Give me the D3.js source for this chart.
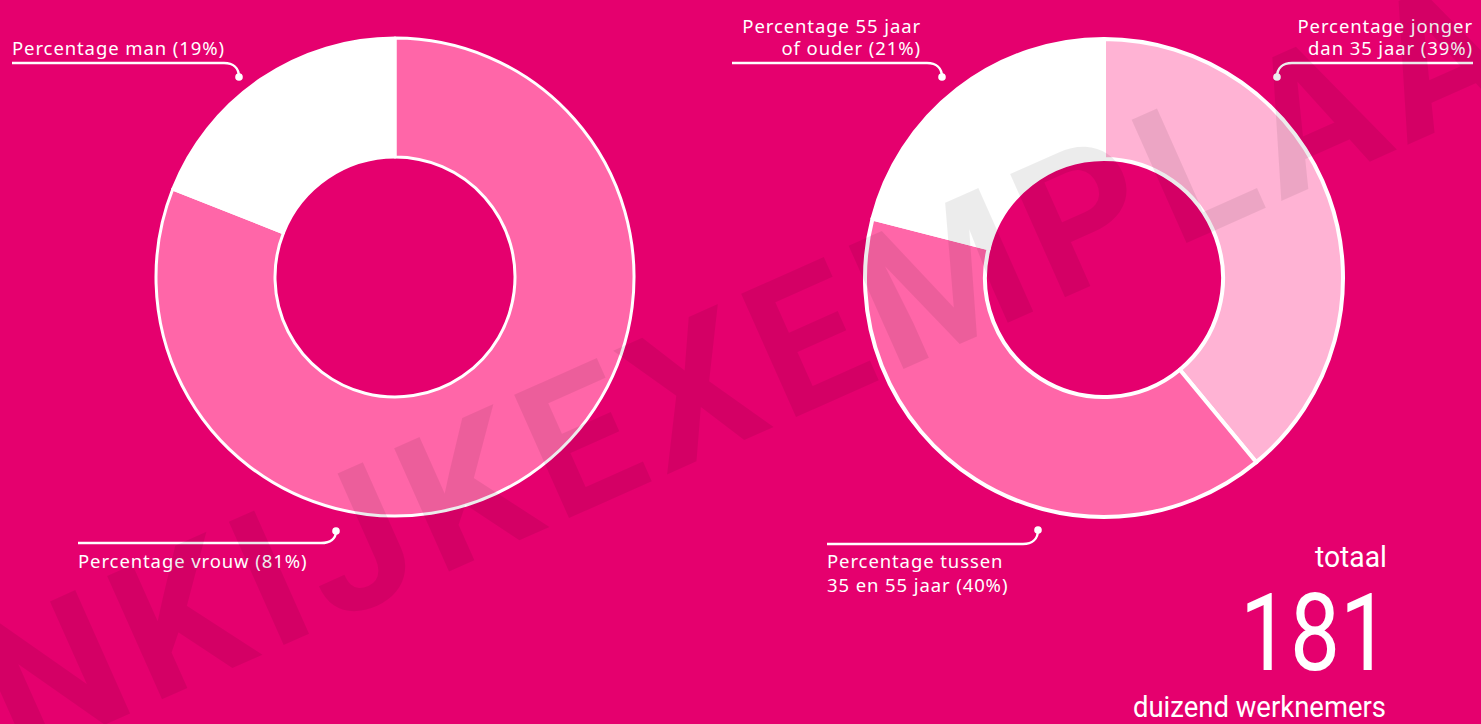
<!DOCTYPE html>
<html><head><meta charset="utf-8">
<script src="https://cdn.jsdelivr.net/npm/d3@7"></script>
<style>html,body{margin:0;padding:0;background:#e5006e;overflow:hidden}</style>
</head><body><svg id="c" width="1481" height="724"></svg>
<script>
// ---- data ----
const genderCategories = ["vrouw", "man"];
const genderValues = [81, 19];
const genderLabels = [["Percentage vrouw (81%)"], ["Percentage man (19%)"]];
const ageCategories = ["jonger dan 35 jaar", "tussen 35 en 55 jaar", "55 jaar of ouder"];
const ageValues = [39, 40, 21];
const ageLabels = [["Percentage jonger", "dan 35 jaar (39%)"], ["Percentage tussen", "35 en 55 jaar (40%)"], ["Percentage 55 jaar", "of ouder (21%)"]];
const totalLabel = "totaal";
const totalValue = 181;
const totalUnit = "duizend werknemers";
const watermarkText = "INKIJKEXEMPLAAR";

// ---- layout ----
const W = 1481, H = 724;
const svg = d3.select("#c");
svg.append("rect").attr("width", W).attr("height", H).attr("fill", "#e5006e");

const donuts = [
  { cx: 395, cy: 277, ro: 239, ri: 120, sw: 3, values: genderValues, cats: genderCategories, labels: genderLabels,
    colors: ["#ff66a8", "#ffffff"],
    leaders: [
      { dot: [336, 531], lineY: 543, x0: 78, textX: 78, anchor: "start", baselines: [568] },
      { dot: [239, 77], lineY: 63, x0: 12, textX: 12, anchor: "start", baselines: [55] }
    ] },
  { cx: 1104, cy: 278, ro: 239, ri: 119, sw: 4, values: ageValues, cats: ageCategories, labels: ageLabels,
    colors: ["#ffb3d4", "#ff66a8", "#ffffff"],
    leaders: [
      { dot: [1277, 77], lineY: 63, x0: 1473, textX: 1473, anchor: "end", baselines: [33, 55] },
      { dot: [1038, 530], lineY: 544, x0: 827, textX: 827, anchor: "start", baselines: [568, 592] },
      { dot: [942, 77], lineY: 63, x0: 732, textX: 921, anchor: "end", baselines: [33, 55] }
    ] }
];

const labelFont = "'Noto Sans', sans-serif";

donuts.forEach(d => {
  const pie = d3.pie().sort(null).value(v => v);
  const arc = d3.arc().innerRadius(d.ri).outerRadius(d.ro);
  const color = d3.scaleOrdinal().domain(d.cats).range(d.colors);
  const g = svg.append("g").attr("transform", `translate(${d.cx},${d.cy})`);
  g.selectAll("path").data(pie(d.values)).join("path")
    .attr("d", arc)
    .attr("fill", (p, i) => color(d.cats[i]))
    .attr("stroke", "#fff").attr("stroke-width", d.sw).attr("stroke-linejoin", "round");

  d.leaders.forEach((L, i) => {
    const [dx, dy] = L.dot;
    const ex = dx + (L.x0 < dx ? -15 : 15);
    const ly = L.lineY;
    const path = d3.path();
    path.moveTo(L.x0, ly);
    path.lineTo(ex, ly);
    path.bezierCurveTo(ex + (dx - ex) * 0.6, ly, dx, ly + (dy - ly) * 0.35, dx, dy);
    svg.append("path").attr("d", path.toString()).attr("fill", "none")
      .attr("stroke", "#fff").attr("stroke-width", 2.5);
    svg.append("circle").attr("cx", dx).attr("cy", dy).attr("r", 3.8).attr("fill", "#fff");
    const t = svg.append("text").attr("fill", "#fff").attr("font-family", labelFont)
      .attr("font-size", 18.5).attr("letter-spacing", 0.9).attr("text-anchor", L.anchor);
    d.labels[i].forEach((line, k) => {
      t.append("tspan").attr("x", L.textX).attr("y", L.baselines[k]).text(line);
    });
  });
});

// ---- total ----
const totFont = "Roboto, sans-serif";
svg.append("text").attr("x", 1387).attr("y", 567).attr("text-anchor", "end")
  .attr("font-family", totFont).attr("font-weight", 400).attr("font-size", 30)
  .attr("textLength", 72).attr("lengthAdjust", "spacingAndGlyphs")
  .attr("fill", "#fff").text(totalLabel);
svg.append("text").attr("x", 1390).attr("y", 670).attr("text-anchor", "end")
  .attr("font-family", totFont).attr("font-weight", 400).attr("font-size", 108)
  .attr("textLength", 150).attr("lengthAdjust", "spacingAndGlyphs")
  .attr("fill", "#fff").text(String(totalValue));
svg.append("text").attr("x", 1386).attr("y", 717).attr("text-anchor", "end")
  .attr("font-family", totFont).attr("font-weight", 400).attr("font-size", 30)
  .attr("textLength", 253).attr("lengthAdjust", "spacingAndGlyphs")
  .attr("fill", "#fff").text(totalUnit);

// ---- watermark ----
const wg = svg.append("g").attr("transform", "translate(558,523) rotate(-24)");
const wt = wg.append("text").attr("font-family", "Roboto, sans-serif").attr("font-weight", 700)
  .attr("font-size", 190).attr("fill", "#000").attr("fill-opacity", 0.075).text(watermarkText);
const n = wt.node();
const measured = n.getSubStringLength(6, 5);
const ls = (676 - measured) / 5;
wt.attr("letter-spacing", ls);
const prefix = n.getSubStringLength(0, 6);
wt.attr("x", -prefix);
</script></body></html>
